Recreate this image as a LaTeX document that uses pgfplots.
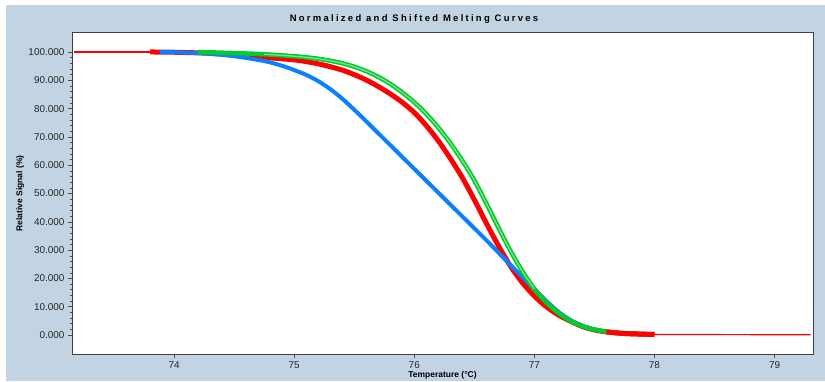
\documentclass[border=0pt]{standalone}
\usepackage{pgfplots}
\pgfplotsset{compat=1.18}
\usepackage{fontspec}
\setmainfont{Liberation Sans}
\newfontfamily\titlefont[LetterSpace=24]{Liberation Sans}
\definecolor{bgblue}{HTML}{C2D4E4}
\definecolor{cblue}{HTML}{0A80FF}
\definecolor{cred}{HTML}{FF0000}
\definecolor{cgreen}{HTML}{00CC2A}
\definecolor{lgreen}{HTML}{80E090}
\begin{document}
\begin{tikzpicture}[x=1bp,y=1bp]
\useasboundingbox (0,0) rectangle (825,381);
\fill[white] (0,0) rectangle (825,381);
\fill[bgblue] (6,0) rectangle (825,376);
\node[font=\titlefont\bfseries\fontsize{9.5}{11}\selectfont] at (414,362) {Normalized and Shifted Melting Curves};
\begin{axis}[
  at={(72bp,27bp)}, anchor=south west,
  width=741bp, height=321bp, scale only axis,
  xmin=73.15, xmax=79.32, ymin=-6.7, ymax=106.7,
  axis background/.style={fill=white},
  xtick={74,75,76,77,78,79}, ytick={0,10,...,100},
  minor y tick num=4,
  xtick pos=bottom, ytick pos=left,
  tick align=outside,
  major tick length=4bp, minor tick length=2.5bp,
  tick style={black!70, line width=0.5bp},
  axis line style={draw=black!75, line width=1bp},
  /pgf/number format/assume math mode=true,
  tick label style={font=\fontsize{10}{12}\selectfont, text=black!85},
  yticklabel style={/pgf/number format/.cd, fixed, fixed zerofill, precision=3},
  xticklabel style={/pgf/number format/.cd, fixed, precision=0},
  xlabel={Temperature (°C)},
  ylabel={Relative Signal (\%)},
  label style={font=\bfseries\fontsize{8.5}{10}\selectfont},
  xlabel style={at={(axis description cs:0.5,-0.065)}, anchor=center},
  ylabel style={at={(axis description cs:-0.070,0.5)}, anchor=center},
  clip=true,
]
% red (thick band)
\addplot[cred, line width=5bp, smooth] coordinates {
(73.80,100) (74.00,99.9) (74.25,99.6) (74.50,99.0) (74.75,98.1) (75.00,97.2)
(75.10,96.6) (75.20,95.8) (75.30,94.8) (75.40,93.6) (75.50,92.0) (75.60,90.1)
(75.70,87.8) (75.80,85.2) (75.90,82.2) (76.00,78.6) (76.10,74.0) (76.20,68.6)
(76.30,62.4) (76.40,55.6) (76.50,47.8) (76.60,39.5) (76.70,31.6) (76.80,24.4)
(76.90,18.5) (77.00,13.8) (77.10,10.0) (77.20,7.1) (77.30,4.9) (77.40,3.0)
(77.50,1.8) (77.60,1.1) (77.70,0.7) (77.80,0.45) (78.00,0.2)};
% blue
\addplot[cblue, line width=4bp, smooth] coordinates {
(73.88,100) (74.00,99.9) (74.25,99.5) (74.50,98.5) (74.75,96.8) (74.90,95.1)
(75.00,93.6) (75.10,91.9) (75.20,89.7) (75.30,86.9) (75.40,83.5) (75.50,79.6)
(75.60,75.5) (75.80,67.1) (76.00,58.7) (76.20,50.3) (76.40,41.9) (76.60,33.5)
(76.80,24.8) (76.90,20.5) (77.00,16.2) (77.10,12.0) (77.20,8.2) (77.30,5.3)
(77.40,3.3) (77.50,2.0) (77.60,1.2) (77.70,0.7) (77.85,0.4)};
% green
\addplot[cgreen, line width=4.5bp, smooth] coordinates {
(74.20,100) (74.50,99.6) (74.75,99.2) (75.00,98.5) (75.10,98.1) (75.20,97.6)
(75.30,96.9) (75.40,96.0) (75.50,94.8) (75.60,93.2) (75.70,91.2) (75.80,88.7)
(75.90,85.7) (76.00,82.2) (76.10,78.1) (76.20,73.3) (76.30,67.8) (76.40,61.6)
(76.50,54.6) (76.60,46.5) (76.70,38.0) (76.80,29.8) (76.90,22.5) (77.00,16.3)
(77.10,11.5) (77.20,7.8) (77.30,5.0) (77.40,3.1) (77.50,1.9) (77.60,1.2)
(77.70,0.7)};
\addplot[lgreen, line width=1.3bp, smooth] coordinates {
(74.75,99.2) (75.00,98.5) (75.10,98.1) (75.20,97.6)
(75.30,96.9) (75.40,96.0) (75.50,94.8) (75.60,93.2) (75.70,91.2) (75.80,88.7)
(75.90,85.7) (76.00,82.2) (76.10,78.1) (76.20,73.3) (76.30,67.8) (76.40,61.6)
(76.50,54.6) (76.60,46.5) (76.70,38.0) (76.80,29.8) (76.90,22.5) (77.00,16.3)};
% red tail on top
\addplot[cred, line width=5bp, smooth] coordinates {
(77.60,1.1) (77.70,0.7) (77.80,0.45) (78.00,0.2)};
% thin red ends
\addplot[cred, line width=1.2bp] coordinates {(73.17,100) (73.85,100)};
\addplot[cred, line width=1.2bp] coordinates {(77.95,0.2) (79.30,0.1)};
\end{axis}
\end{tikzpicture}
\end{document}
